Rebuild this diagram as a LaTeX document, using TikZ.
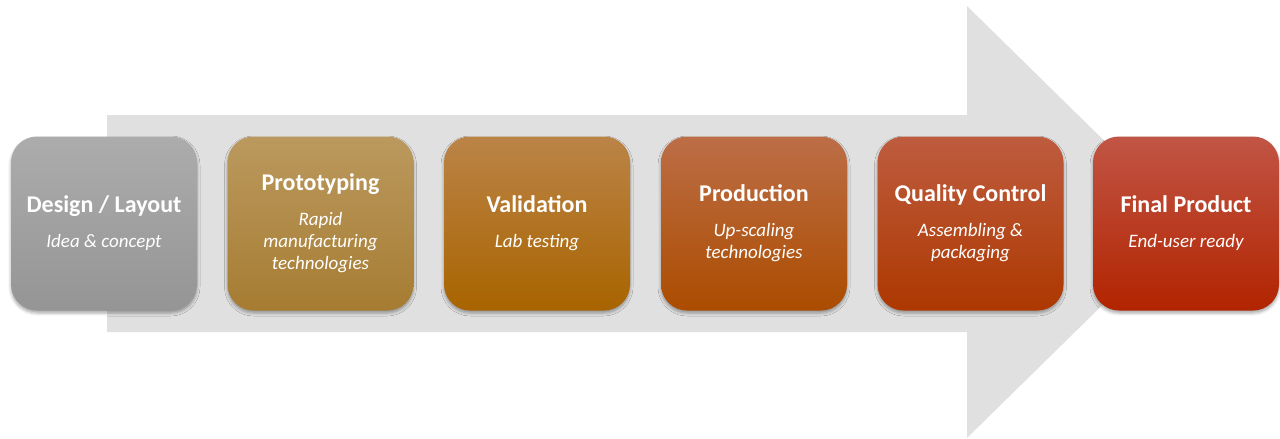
\documentclass[tikz,border=0pt]{standalone}
\usepackage{fontspec}
\setmainfont{Carlito}
\usetikzlibrary{shadows.blur}
\definecolor{arrowgray}{HTML}{E0E0E0}
\definecolor{aT}{HTML}{ACACAC}\definecolor{aM}{HTML}{A1A1A1}\definecolor{aB}{HTML}{959595}
\definecolor{bT}{HTML}{BB995E}\definecolor{bM}{HTML}{B18A45}\definecolor{bB}{HTML}{A67C32}
\definecolor{cT}{HTML}{BB8447}\definecolor{cM}{HTML}{B36D0A}\definecolor{cB}{HTML}{A96400}
\definecolor{dT}{HTML}{BD6E47}\definecolor{dM}{HTML}{B8561A}\definecolor{dB}{HTML}{AB4C00}
\definecolor{eT}{HTML}{BE5C3F}\definecolor{eM}{HTML}{BA4512}\definecolor{eB}{HTML}{AD3800}
\definecolor{fT}{HTML}{C15545}\definecolor{fM}{HTML}{BF3818}\definecolor{fB}{HTML}{B22400}
\newcommand\ttl[1]{{\fontsize{24}{26}\selectfont\upshape\bfseries #1}}
\begin{document}
\begin{tikzpicture}[x=1pt,y=-1pt,
  stagebox/.style={rounded corners=26pt, minimum width=186pt, minimum height=174pt,
    inner sep=0pt, align=center, text=white, font=\fontsize{19}{22}\selectfont\itshape,
    blur shadow={shadow xshift=0pt, shadow yshift=-2.5pt, shadow blur radius=3pt, shadow opacity=35}},
  shade3/.style={top color=#1T, middle color=#1M, bottom color=#1B}
]
\useasboundingbox (0,0) rectangle (1280,439);
% big background arrow
\fill[arrowgray] (107,115) -- (967,115) -- (967,6) -- (1187,222) -- (967,438) -- (967,332) -- (107,332) -- cycle;
% stages
\node[stagebox, shade3=a] (b1) at (104,223.5)
  {\ttl{Design / Layout}\\[13pt]Idea \& concept};
\node[stagebox, shade3=b] (b2) at (320.5,223.5)
  {\ttl{Prototyping}\\[13pt]Rapid\\manufacturing\\technologies};
\node[stagebox, shade3=c] (b3) at (537,223.5)
  {\ttl{Validation}\\[13pt]Lab testing};
\node[stagebox, shade3=d] (b4) at (754,223.5)
  {\ttl{Production}\\[13pt]Up-scaling\\technologies};
\node[stagebox, shade3=e] (b5) at (970.5,223.5)
  {\ttl{Quality Control}\\[13pt]Assembling \&\\packaging};
\node[stagebox, shade3=f] (b6) at (1186,223.5)
  {\ttl{Final Product}\\[13pt]End-user ready};
\end{tikzpicture}
\end{document}
